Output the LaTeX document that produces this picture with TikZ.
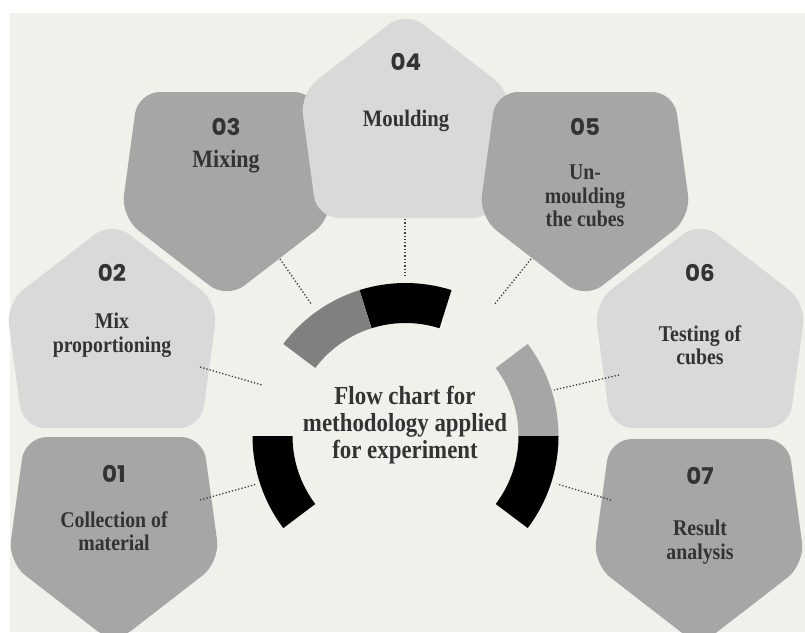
\documentclass[tikz,border=0pt]{standalone}
\usepackage{fontspec}
\newfontfamily\labfont{Liberation Serif}[FakeStretch=0.88]
\newfontfamily\numfont{Poppins}
\usetikzlibrary{calc}
\definecolor{bgcol}{RGB}{241,241,235}
\definecolor{pdark}{RGB}{166,166,166}
\definecolor{plight}{RGB}{217,217,217}
\definecolor{ringgray}{RGB}{128,128,128}
\definecolor{ringlight}{RGB}{166,166,166}
\definecolor{txt}{RGB}{51,51,51}
\definecolor{dotcol}{RGB}{60,60,60}

% rounded pentagon: centre x, centre y, 1 = apex up / -1 = apex down, fill colour
\newcommand{\pentshape}[4]{%
  \fill[#4, pent, shift={(#1,#2)}, yscale=#3]
    (0,-107) -- (106,-25) -- (89,100) -- (-89,100) -- (-106,-25) -- cycle;}
% ring segment between two angles around (c)
\newcommand{\ringpart}[3]{%
  \fill[#1] ([shift={(#2:153)}]c) arc[start angle=#2, end angle=#3, radius=153]
    -- ([shift={(#3:113)}]c) arc[start angle=#3, end angle=#2, radius=113] -- cycle;}

\begin{document}
\begin{tikzpicture}[x=1pt,y=-1pt,
  numlabel/.style={font=\numfont\bfseries\fontsize{23}{23}\selectfont, text=txt, inner sep=0pt},
  steplabel/.style={font=\labfont\bfseries\fontsize{22.5}{23.5}\selectfont, text=txt, align=center, inner sep=0pt},
  biglabel/.style={steplabel, font=\labfont\bfseries\fontsize{25}{26}\selectfont},
  titlelabel/.style={font=\labfont\bfseries\fontsize{26}{27}\selectfont, text=txt, align=center, inner sep=0pt},
  link/.style={dotcol, dotted, line width=1.3pt},
  pent/.style={rounded corners=22pt}]
\fill[white] (0,0) rectangle (805,632);
\fill[bgcol] (10,13) rectangle (805,632);
\useasboundingbox (0,0) rectangle (805,632);

% the seven steps
\pentshape{114}{537}{-1}{pdark}
\pentshape{112}{328}{1}{plight}
\pentshape{227}{192}{-1}{pdark}
\pentshape{406}{118}{1}{plight}
\pentshape{585}{192}{-1}{pdark}
\pentshape{700}{328}{1}{plight}
\pentshape{699}{539}{-1}{pdark}

% ring around the title
\coordinate (c) at (405.5,436);
\ringpart{black}{-180}{-217}
\ringpart{ringlight}{0}{-37}
\ringpart{black}{37}{0}
\ringpart{black}{-72.5}{-107.5}
\ringpart{ringgray}{-107.5}{-143}

% dotted links from each step to the ring
\coordinate (e1) at (200,500);  \coordinate (r1) at (257,484);
\coordinate (e2) at (200,367);  \coordinate (r2) at (262,385);
\coordinate (e3) at (280,259);  \coordinate (r3) at (312,305);
\coordinate (e4) at (405,219);  \coordinate (r4) at (405,277);
\coordinate (e5) at (531,259);  \coordinate (r5) at (494,305);
\coordinate (e6) at (619,375);  \coordinate (r6) at (554,390);
\coordinate (e7) at (611,500);  \coordinate (r7) at (557,484);
\foreach \i in {1,...,7} \draw[link] (e\i) -- (r\i);

% labels
\node[numlabel] (n1) at (114,474) {01};
\node[steplabel] (t1) at (114,531) {Collection of\\material};
\node[numlabel] (n2) at (112,273) {02};
\node[steplabel] (t2) at (112,335) {Mix\\proportioning};
\node[numlabel] (n3) at (226,127) {03};
\node[biglabel] (t3) at (226,162) {Mixing};
\node[numlabel] (n4) at (406,62) {04};
\node[steplabel, font=\labfont\bfseries\fontsize{23.5}{24}\selectfont] (t4) at (406,121) {Moulding};
\node[numlabel] (n5) at (585,127) {05};
\node[steplabel] (t5) at (585,196) {Un-\\moulding\\the cubes};
\node[numlabel] (n6) at (700,273) {06};
\node[steplabel] (t6) at (700,345) {Testing of\\cubes};
\node[numlabel] (n7) at (700,476) {07};
\node[steplabel] (t7) at (700,542) {Result\\analysis};
\node[titlelabel] (title) at (405,425) {Flow chart for\\methodology applied\\for experiment};
\end{tikzpicture}
\end{document}
